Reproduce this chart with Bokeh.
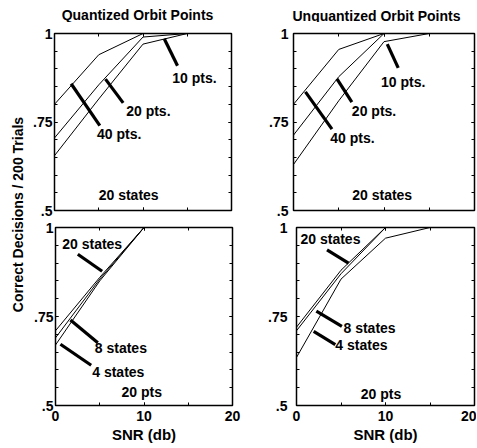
import math
from bokeh.plotting import figure
from bokeh.layouts import row, column
from bokeh.models import FixedTicker, LinearAxis, Range1d
from bokeh.core.properties import value
from bokeh.embed import file_html
from bokeh.resources import INLINE

# ---------------- data ----------------
snr = [0, 5, 10, 15, 20]

# Quantized orbit points, 20 states
q_10pts = [0.655, 0.815, 0.97, 1.0, 1.0]
q_20pts = [0.705, 0.855, 0.99, 1.0, 1.0]
q_40pts = [0.80, 0.94, 1.0, 1.0, 1.0]

# Unquantized orbit points, 20 states
u_10pts = [0.63, 0.81, 0.977, 1.0, 1.0]
u_20pts = [0.713, 0.878, 1.0, 1.0, 1.0]
u_40pts = [0.80, 0.955, 1.0, 1.0, 1.0]

# Quantized, 20 pts
q_4st = [0.67, 0.85, 1.0, 1.0, 1.0]
q_8st = [0.69, 0.855, 1.0, 1.0, 1.0]
q_20st = [0.71, 0.86, 1.0, 1.0, 1.0]

# Unquantized, 20 pts
u_4st = [0.635, 0.855, 0.97, 1.0, 1.0]
u_8st = [0.71, 0.87, 1.0, 1.0, 1.0]
u_20st = [0.72, 0.88, 1.0, 1.0, 1.0]

x_major = [0, 10, 20]
x_minor = [0, 5, 10, 15, 20]
y_major = [0.5, 0.75, 1.0]
y_minor = [0.5, 0.55, 0.6, 0.65, 0.7, 0.75, 0.8, 0.85, 0.9, 0.95, 1.0]
y_labels = {0.5: ".5", 0.75: ".75", 1.0: "1"}
titles = ["Quantized Orbit Points", "Unquantized Orbit Points"]

FONT = "Liberation Sans"


def hide_labels(ax):
    ax.major_label_text_color = None
    ax.major_label_text_font_size = "1px"
    ax.major_label_standoff = 0


def make_panel(w, h, bl, br, bt, bb, show_x, y_standoff):
    p = figure(width=w, height=h,
               x_range=Range1d(0, 20), y_range=Range1d(0.5, 1.0),
               output_backend="svg", toolbar_location=None, tools="",
               min_border_left=bl, min_border_right=br,
               min_border_top=bt, min_border_bottom=bb)
    p.grid.visible = False
    p.outline_line_color = "black"
    p.outline_line_width = 1.5
    xt = FixedTicker(ticks=x_major, minor_ticks=x_minor)
    yt = FixedTicker(ticks=y_major, minor_ticks=y_minor)
    for ax in (p.xaxis[0], p.yaxis[0]):
        ax.axis_line_color = None
        ax.major_tick_in = 3
        ax.major_tick_out = 0
        ax.minor_tick_in = 3
        ax.minor_tick_out = 0
        ax.major_tick_line_color = "black"
        ax.minor_tick_line_color = "black"
        ax.major_label_text_font = FONT
        ax.major_label_text_font_size = "14px"
        ax.major_label_text_font_style = "bold"
        ax.major_label_text_color = "black"
    p.xaxis[0].ticker = xt
    p.yaxis[0].ticker = yt
    p.yaxis[0].major_label_overrides = y_labels
    p.yaxis[0].major_label_standoff = y_standoff
    if show_x:
        p.xaxis[0].major_label_standoff = 5
        p.xaxis[0].axis_label = "SNR (db)"
        p.xaxis[0].axis_label_text_font = FONT
        p.xaxis[0].axis_label_text_font_size = "15px"
        p.xaxis[0].axis_label_text_font_style = "bold"
        p.xaxis[0].axis_label_text_color = "black"
        p.xaxis[0].axis_label_standoff = 2
    else:
        hide_labels(p.xaxis[0])
    # mirror ticks on the top and right
    for loc, tk in (("right", yt), ("above", xt)):
        ax = LinearAxis(ticker=tk, axis_line_color=None,
                        major_tick_in=3, major_tick_out=0,
                        minor_tick_in=3, minor_tick_out=0)
        hide_labels(ax)
        p.add_layout(ax, loc)
    return p


def add_curves(p, series):
    for ys in series:
        p.line(snr, ys, line_color="black", line_width=1)


def add_notes(p, arrows, notes):
    x0 = [a[0] for a in arrows]
    y0 = [a[1] for a in arrows]
    x1 = [a[2] for a in arrows]
    y1 = [a[3] for a in arrows]
    p.segment(x0, y0, x1, y1, line_color="black", line_width=3.2)
    for (tx, ty, txt, align) in notes:
        p.text([tx], [ty], text=[txt], text_font=value(FONT),
               text_font_size="14px", text_font_style="bold",
               text_align=align, text_baseline="middle", text_color="black")


# ---- title strip above the top row ----
head = figure(width=446, height=22, x_range=Range1d(0, 446), y_range=Range1d(0, 22),
              x_axis_type=None, y_axis_type=None, output_backend="svg",
              toolbar_location=None, tools="", min_border=0)
head.outline_line_color = None
head.grid.visible = False
head.text([107, 346], [8, 7], text=titles, text_font=value(FONT),
          text_font_size="14px", text_font_style="bold",
          text_align="center", text_baseline="middle", text_color="black")

# ---- top-left: quantized, 20 states ----
tl = make_panel(211, 197, 24, 10, 11, 8, False, 2)
add_curves(tl, [q_10pts, q_20pts, q_40pts])
add_notes(tl,
          [(13.9, 0.909, 12.4, 0.985), (7.76, 0.804, 5.76, 0.871), (5.12, 0.740, 1.88, 0.858)],
          [(13.3, 0.873, "10 pts.", "left"), (8.1, 0.78, "20 pts.", "left"),
           (4.8, 0.715, "40 pts.", "left"), (8.6, 0.543, "20  states", "center")])

# ---- top-right: unquantized, 20 states ----
tr = make_panel(235, 197, 52, 2, 8, 9, False, 5)
add_curves(tr, [u_10pts, u_20pts, u_40pts])
add_notes(tr,
          [(11.57, 0.903, 10.36, 0.970), (6.45, 0.806, 4.80, 0.872), (4.25, 0.730, 1.32, 0.835)],
          [(9.67, 0.863, "10 pts.", "left"), (6.45, 0.78, "20 pts.", "left"),
           (4.07, 0.704, "40 pts.", "left"), (9.8, 0.544, "20 states", "center")])

# ---- bottom-left: quantized, 20 pts ----
bl = make_panel(211, 227, 25, 9, 8, 39, True, 2)
add_curves(bl, [q_4st, q_8st, q_20st])
add_notes(bl,
          [(2.52, 0.925, 5.27, 0.877), (4.78, 0.676, 1.69, 0.740), (4.03, 0.613, 0.56, 0.672)],
          [(0.76, 0.954, "20 states", "left"), (4.44, 0.662, "8 states", "left"),
           (4.15, 0.593, "4 states", "left"), (9.75, 0.538, "20 pts", "center")])

# ---- bottom-right: unquantized, 20 pts ----
br = make_panel(235, 227, 55, 2, 8, 41, True, 9)
add_curves(br, [u_4st, u_8st, u_20st])
add_notes(br,
          [(3.43, 0.937, 5.84, 0.900), (5.1, 0.722, 2.23, 0.765), (4.36, 0.671, 1.93, 0.708)],
          [(0.45, 0.968, "20 states", "left"), (5.28, 0.718, "8 states", "left"),
           (4.36, 0.669, "4 states", "left"), (9.5, 0.533, "20 pts", "center")])

# ---- shared y label ----
lab = figure(width=30, height=446, x_range=Range1d(0, 30), y_range=Range1d(0, 446),
             x_axis_type=None, y_axis_type=None, output_backend="svg",
             toolbar_location=None, tools="", min_border=0)
lab.outline_line_color = None
lab.grid.visible = False
lab.text([17.5], [232], text=["Correct Decisions / 200 Trials"], angle=math.pi / 2,
         text_font=value(FONT), text_font_size="14px", text_font_style="bold",
         text_align="center", text_baseline="middle", text_color="black")

layout = row(lab,
             column(head, row(tl, tr, spacing=0), row(bl, br, spacing=0), spacing=0),
             spacing=0)

open("out.html", "w").write(file_html(layout, INLINE))
